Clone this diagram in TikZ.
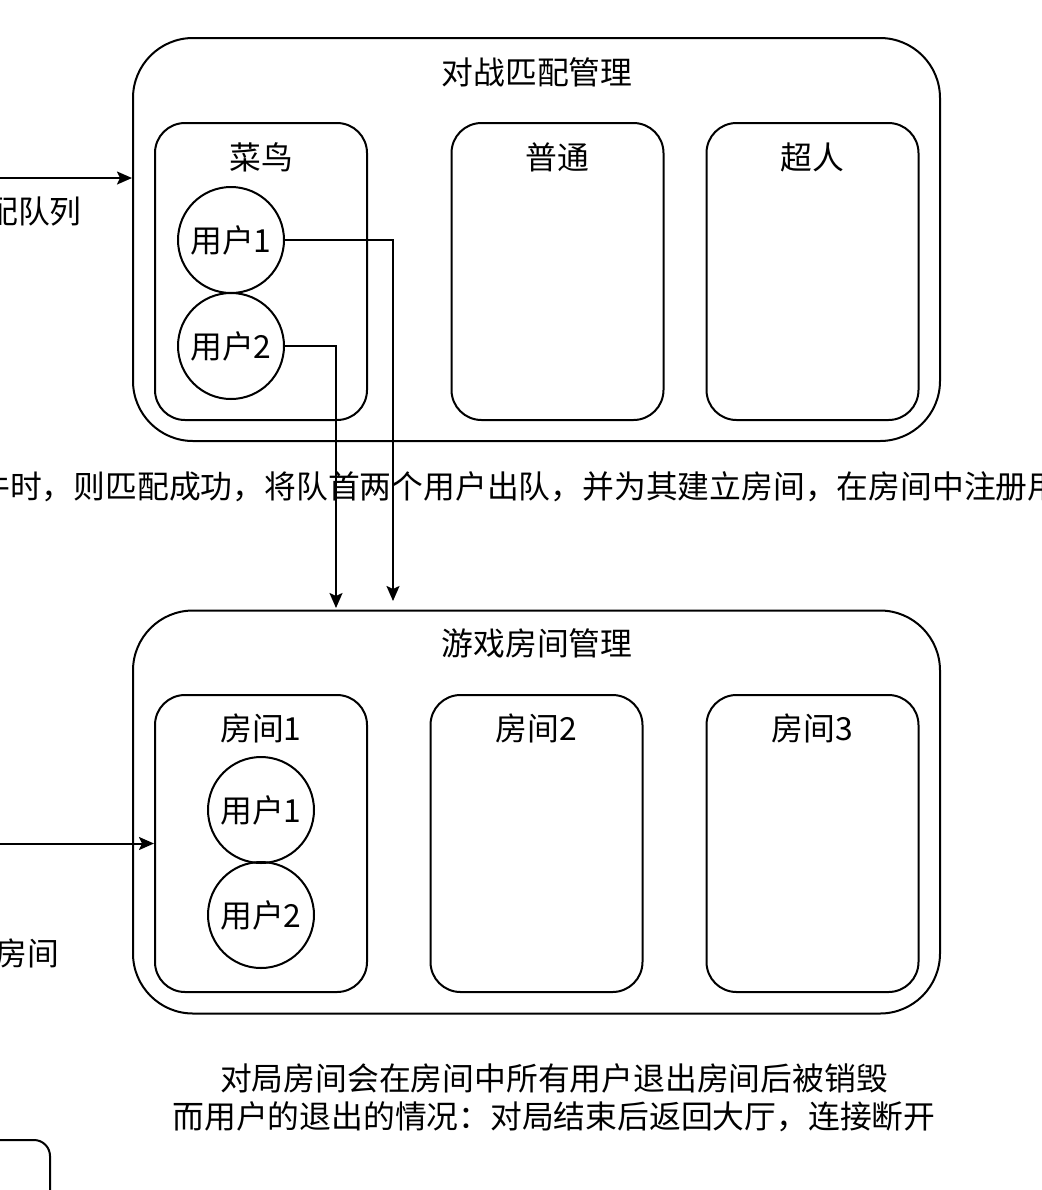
\documentclass[tikz,border=0pt]{standalone}
\usepackage{fontspec}
\setmainfont{Noto Sans CJK SC}
\usetikzlibrary{arrows.meta}

\begin{document}
\begin{tikzpicture}[x=0.5pt, y=-0.5pt, font=\fontsize{15.9}{19}\selectfont]
  \tikzset{
    outer_box/.style={draw, line width=1pt, rounded corners=30pt, minimum width=403.5pt, minimum height=201.5pt, inner sep=0pt},
    inner_box/.style={draw, line width=1pt, rounded corners=15pt, minimum width=106pt, minimum height=148.5pt, inner sep=0pt},
    user_node/.style={circle, draw, line width=1pt, minimum size=53pt, inner sep=0pt},
    txt/.style={inner sep=0pt, anchor=center},
    arr/.style={line width=1pt, -{Stealth[length=7.5pt, width=6.5pt, inset=1.5pt]}}
  }

  % Marco de la figura
  \useasboundingbox (0,0) rectangle (1042,1190);
  \clip (0,0) rectangle (1042,1190);

  % Zona superior: emparejamiento
  \node[outer_box] (match) at (536.5,239.5) {};
  \node[txt] (match_title) at (537,72) {对战匹配管理};
  \node[inner_box] (rookie) at (261,271.5) {};
  \node[inner_box] (normal) at (557.5,271.5) {};
  \node[inner_box] (super) at (812.5,271.5) {};
  \node[txt] (rookie_title) at (261,157) {菜鸟};
  \node[txt] (normal_title) at (557.5,157) {普通};
  \node[txt] (super_title) at (812.5,157) {超人};

  % Usuarios en la cola
  \node[user_node] (q_user1) at (231,240) {用户1};
  \node[user_node] (q_user2) at (231,346) {用户2};

  % Zona inferior: salas de juego
  \node[outer_box] (rooms) at (536.5,812) {};
  \node[txt] (rooms_title) at (537,643) {游戏房间管理};
  \node[inner_box] (room1) at (261,843.5) {};
  \node[inner_box] (room2) at (536.5,843.5) {};
  \node[inner_box] (room3) at (812.5,843.5) {};
  \node[txt] (room1_title) at (261,728) {房间1};
  \node[txt] (room2_title) at (536.5,728) {房间2};
  \node[txt] (room3_title) at (812.5,728) {房间3};

  \node[user_node] (r_user1) at (261,810) {用户1};
  \node[user_node] (r_user2) at (261,915) {用户2};

  % Caja cortada abajo a la izquierda
  \node[draw, line width=1pt, rounded corners=8pt, minimum width=100pt, minimum height=100pt] (lobby) at (-50,1240) {};

  % Extremos libres de las flechas
  \coordinate (queue_in) at (0,178);
  \coordinate (room_in) at (0,843.5);
  \coordinate (drop1) at (393,601);
  \coordinate (drop2) at (336,608);

  % Flechas
  \draw[arr] (queue_in) -- (match.west |- queue_in);
  \draw[arr] (room_in) -- (room1.west);
  \draw[arr] (q_user1.east) -| (drop1);
  \draw[arr] (q_user2.east) -| (drop2);

  % Etiquetas
  \node[txt, anchor=east] (queue_lbl) at (82,212) {配队列};
  \node[txt, anchor=east] (room_lbl) at (60,953) {房间};
  \node[txt, anchor=west] (mid_lbl) at (-22,487) {件时，则匹配成功，将队首两个用户出队，并为其建立房间，在房间中注册用户};
  \node[txt, align=center] (bottom_lbl) at (554,1098) {对局房间会在房间中所有用户退出房间后被销毁\\而用户的退出的情况：对局结束后返回大厅，连接断开};
\end{tikzpicture}
\end{document}
